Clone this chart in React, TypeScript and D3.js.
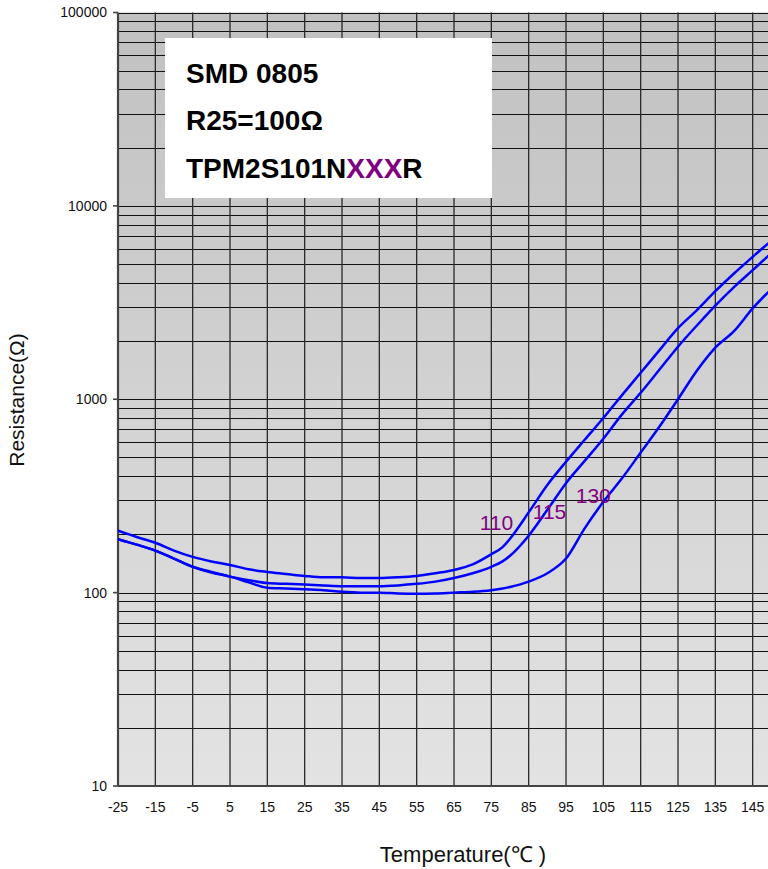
import React from "react";
import * as d3 from "d3";

const temps = [-25, -20, -15, -10, -5, 0, 5, 10, 15, 20, 25, 30, 35, 40, 45, 50, 55, 60, 65, 70, 75, 78, 80, 85, 90, 95, 100, 105, 110, 115, 120, 125, 130, 135, 140, 145, 150, 155];
const r110 = [209, 194, 181, 165, 153, 145, 139, 132, 128, 125, 122, 120, 120, 119, 119, 120, 122, 126, 131, 140, 158, 172, 190, 260, 360, 475, 617, 800, 1050, 1370, 1790, 2330, 2880, 3620, 4470, 5450, 6600, 7900];
const r115 = [189, 177, 165, 150, 136, 128, 121, 116, 112, 111, 110, 109, 108, 108, 108, 109, 111, 114, 119, 126, 136, 145, 155, 197, 268, 368, 480, 625, 835, 1080, 1420, 1870, 2400, 3050, 3800, 4650, 5700, 6900];
const r130 = [189, 177, 165, 150, 136, 127, 121, 113, 106, 105, 104, 103, 101, 100, 100, 99, 98.6, 99, 100, 101, 103, 105, 107, 114, 126, 150, 215, 295, 390, 530, 720, 1000, 1400, 1850, 2250, 2950, 3700, 4400];
const seriesNames = ["110", "115", "130"];
const labelTemps = [71.9, 86.1, 97.6];
const labelValues = [211, 240, 291];
const gridTemps = [-15, -5, 5, 15, 25, 35, 45, 55, 65, 75, 85, 95, 105, 115, 125, 135, 145, 155];
const xTickLabels = [-25, -15, -5, 5, 15, 25, 35, 45, 55, 65, 75, 85, 95, 105, 115, 125, 135, 145];
const yTicks = [10, 100, 1000, 10000, 100000];
const boxLines = ["SMD 0805", "R25=100Ω"];

export default function App() {
  const W = 768, H = 869;
  const left = 118, right = 790, top = 12.5, bottom = 786;
  const x = d3.scaleLinear().domain([-25, 155]).range([left, right]);
  const y = d3.scaleLog().domain([10, 100000]).range([bottom, top]);
  const line = d3
    .line<number>()
    .x((_, i) => x(temps[i]))
    .y((d) => y(d))
    .curve(d3.curveMonotoneX);

  const minor: number[] = [];
  [10, 100, 1000, 10000].forEach((dec) => {
    for (let k = 1; k <= 9; k++) {
      if (!(k === 1 && dec === 10)) minor.push(k * dec);
    }
  });
  minor.push(100000);

  const series = [r110, r115, r130];
  const font = "'Liberation Sans', Arial, Helvetica, sans-serif";

  return (
    <svg
      width={W}
      height={H}
      style={{ position: "absolute", left: 0, top: 0, background: "#fff" }}
      fontFamily={font}
    >
      <defs>
        <linearGradient id="bg" x1="0" y1="0" x2="0" y2="1">
          <stop offset="0%" stopColor="#c1c1c1" />
          <stop offset="100%" stopColor="#e3e3e3" />
        </linearGradient>
        <clipPath id="plot">
          <rect x={left} y={top} width={right - left} height={bottom - top} />
        </clipPath>
      </defs>
      <rect x={left} y={top} width={right - left} height={bottom - top} fill="url(#bg)" />
      {minor.map((v) => (
        <line key={"h" + v} x1={left} x2={right} y1={Math.round(y(v)) + 0.5} y2={Math.round(y(v)) + 0.5} stroke="#111" strokeWidth={1} />
      ))}
      {gridTemps.map((t) => (
        <line key={"v" + t} x1={x(t)} x2={x(t)} y1={top} y2={bottom} stroke="#2a2a2a" strokeWidth={1.3} />
      ))}
      <line x1={left} x2={left} y1={top} y2={bottom} stroke="#444" strokeWidth={2.2} />
      <line x1={left} x2={right} y1={bottom} y2={bottom} stroke="#444" strokeWidth={2.2} />
      {yTicks.map((v) => (
        <g key={"yt" + v}>
          <line x1={left - 5} x2={left} y1={y(v)} y2={y(v)} stroke="#444" strokeWidth={1.6} />
          <text x={107} y={y(v)} dy="0.35em" textAnchor="end" fontSize={14} fill="#111">
            {v}
          </text>
        </g>
      ))}
      {xTickLabels.map((t) => (
        <text key={"xt" + t} x={x(t)} y={807} dy="0.35em" textAnchor="middle" fontSize={14} fill="#111">
          {t}
        </text>
      ))}
      <g clipPath="url(#plot)">
        {series.map((s, i) => (
          <path key={"s" + i} d={line(s) || ""} fill="none" stroke="#0000ff" strokeWidth={2.5} />
        ))}
      </g>
      <rect x={165} y={38} width={327} height={160} fill="#fff" />
      <text x={186} y={83} fontSize={28} fontWeight="bold" fill="#000">
        {boxLines[0]}
      </text>
      <text x={186} y={130} fontSize={28} fontWeight="bold" fill="#000">
        {boxLines[1]}
      </text>
      <text x={186} y={178} fontSize={28} fontWeight="bold" fill="#000">
        TPM2S101N<tspan fill="#800080">XXX</tspan>R
      </text>
      {seriesNames.map((n, i) => (
        <text key={"lab" + n} x={x(labelTemps[i])} y={y(labelValues[i])} fontSize={21} fill="#800080">
          {n}
        </text>
      ))}
      <text x={463} y={862} textAnchor="middle" fontSize={22} fill="#111">
        Temperature(℃ )
      </text>
      <text
        transform={`translate(24,400) rotate(-90)`}
        textAnchor="middle"
        fontSize={21}
        fill="#111"
      >
        Resistance(Ω)
      </text>
    </svg>
  );
}
